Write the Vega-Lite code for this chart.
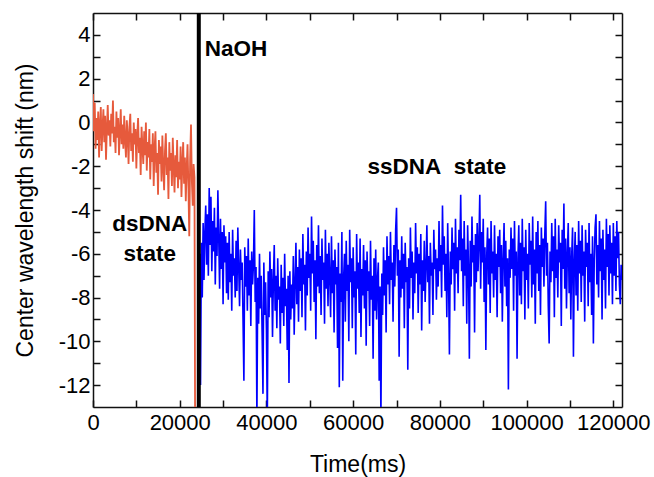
{
"$schema": "https://vega.github.io/schema/vega-lite/v6.json",
"width": 529, "height": 394,
"autosize": {"type": "none"},
"padding": {"left": 93, "top": 13, "right": 32, "bottom": 70},
"background": "white",
"config": {"view": {"stroke": null}, "font": "Liberation Sans",
 "axis": {"domainColor": "#111", "domainWidth": 1.5, "tickColor": "#111", "tickWidth": 1.5, "tickSize": -7, "labelFont": "Liberation Sans", "labelFontSize": 22, "labelColor": "#000", "titleFont": "Liberation Sans", "titleFontSize": 23, "titleFontWeight": "normal", "titleColor": "#000", "grid": false, "labelOverlap": false, "labelFlush": false}},
"datasets": {
"red": [
{"t":0,"y":1.3},{"t":200,"y":-0.4},{"t":400,"y":0.9},{"t":600,"y":-1.2},{"t":800,"y":0.2},{"t":1000,"y":-0.8},{"t":1200,"y":0.5},{"t":1400,"y":-1.6},{"t":1600,"y":-0.1},{"t":1800,"y":0.7},
{"t":2000,"y":-1.3},{"t":2200,"y":-0.2},{"t":2400,"y":0.6},{"t":2600,"y":-0.9},{"t":2800,"y":0.3},{"t":3000,"y":-1.7},{"t":3200,"y":-0.3},{"t":3400,"y":0.8},{"t":3600,"y":-0.6},{"t":3800,"y":0.1},
{"t":4000,"y":-1.1},{"t":4200,"y":0.4},{"t":4400,"y":-0.5},{"t":4600,"y":1.0},{"t":4800,"y":-0.9},{"t":5000,"y":-0.2},{"t":5200,"y":-1.4},{"t":5400,"y":0.5},{"t":5600,"y":-0.7},{"t":5800,"y":0.2},
{"t":6000,"y":-1.5},{"t":6200,"y":-0.4},{"t":6400,"y":0.6},{"t":6600,"y":-1.0},{"t":6800,"y":-0.1},{"t":7000,"y":-1.2},{"t":7200,"y":0.3},{"t":7400,"y":-0.8},{"t":7600,"y":-1.6},{"t":7800,"y":0.1},
{"t":8000,"y":-0.6},{"t":8200,"y":-1.9},{"t":8400,"y":-0.2},{"t":8600,"y":0.4},{"t":8800,"y":-1.3},{"t":9000,"y":-0.5},{"t":9200,"y":-1.8},{"t":9400,"y":0.0},{"t":9600,"y":-1.0},{"t":9800,"y":-0.3},
{"t":10000,"y":-2.1},{"t":10200,"y":-0.6},{"t":10400,"y":0.2},{"t":10600,"y":-1.4},{"t":10800,"y":-0.7},{"t":11000,"y":-2.4},{"t":11200,"y":-0.2},{"t":11400,"y":-1.1},{"t":11600,"y":-1.9},{"t":11800,"y":-0.4},
{"t":12000,"y":-1.5},{"t":12200,"y":0.0},{"t":12400,"y":-2.2},{"t":12600,"y":-0.9},{"t":12800,"y":-1.6},{"t":13000,"y":-0.3},{"t":13200,"y":-2.6},{"t":13400,"y":-1.0},{"t":13600,"y":-1.8},{"t":13800,"y":-0.5},
{"t":14000,"y":-2.9},{"t":14200,"y":-1.2},{"t":14400,"y":-0.4},{"t":14600,"y":-2.3},{"t":14800,"y":-1.4},{"t":15000,"y":-3.3},{"t":15200,"y":-0.8},{"t":15400,"y":-1.9},{"t":15600,"y":-1.1},{"t":15800,"y":-2.7},
{"t":16000,"y":-0.6},{"t":16200,"y":-2.0},{"t":16400,"y":-3.1},{"t":16600,"y":-1.3},{"t":16800,"y":-0.5},{"t":17000,"y":-2.4},{"t":17200,"y":-1.6},{"t":17400,"y":-3.5},{"t":17600,"y":-0.9},{"t":17800,"y":-2.2},
{"t":18000,"y":-1.4},{"t":18200,"y":-2.9},{"t":18400,"y":-0.7},{"t":18600,"y":-2.0},{"t":18800,"y":-3.2},{"t":19000,"y":-1.5},{"t":19200,"y":-2.5},{"t":19400,"y":-0.8},{"t":19600,"y":-3.0},{"t":19800,"y":-1.8},
{"t":20000,"y":-2.6},{"t":20200,"y":-1.1},{"t":20400,"y":-3.4},{"t":20600,"y":-1.9},{"t":20800,"y":-0.9},{"t":21000,"y":-2.8},{"t":21200,"y":-1.6},{"t":21400,"y":-3.6},{"t":21600,"y":-2.1},{"t":21800,"y":-1.0},
{"t":22000,"y":-2.9},{"t":22200,"y":-5.2},{"t":22400,"y":-1.7},{"t":22600,"y":-0.1},{"t":22800,"y":-2.7},{"t":23000,"y":-3.8},{"t":23200,"y":-1.9},{"t":23400,"y":-2.5},{"t":23550,"y":-14}
],
"blue": [
{"t":24450,"y":-13.6},{"t":24600,"y":-6.0},{"t":24800,"y":-12.0},{"t":25000,"y":-5.5},{"t":25200,"y":-8.0},
{"t":25400,"y":-4.6},{"t":25600,"y":-7.2},{"t":25800,"y":-5.0},{"t":26000,"y":-3.8},{"t":26200,"y":-6.5},{"t":26400,"y":-4.2},{"t":26600,"y":-7.0},{"t":26800,"y":-3.0},{"t":27000,"y":-5.6},{"t":27200,"y":-3.4},
{"t":27400,"y":-6.8},{"t":27600,"y":-4.5},{"t":27800,"y":-5.9},{"t":28000,"y":-3.9},{"t":28200,"y":-7.4},{"t":28400,"y":-4.8},{"t":28600,"y":-6.1},{"t":28800,"y":-3.1},{"t":29000,"y":-5.3},{"t":29200,"y":-7.6},
{"t":29400,"y":-4.4},{"t":29600,"y":-6.7},{"t":29800,"y":-5.0},{"t":30000,"y":-8.3},{"t":30200,"y":-4.7},{"t":30400,"y":-6.4},{"t":30600,"y":-5.2},{"t":30800,"y":-7.8},{"t":31000,"y":-5.5},
{"t":31200,"y":-8.1},{"t":31400,"y":-5.0},{"t":31600,"y":-7.3},{"t":31800,"y":-6.0},{"t":32000,"y":-8.6},{"t":32200,"y":-4.9},{"t":32400,"y":-7.0},{"t":32600,"y":-6.2},{"t":32800,"y":-8.0},{"t":33000,"y":-5.4},
{"t":33200,"y":-7.7},{"t":33400,"y":-4.8},{"t":33600,"y":-6.6},{"t":33800,"y":-8.4},{"t":34000,"y":-5.8},{"t":34200,"y":-7.2},{"t":34400,"y":-6.4},{"t":34600,"y":-9.0},{"t":34800,"y":-11.8},{"t":35000,"y":-5.7},
{"t":35200,"y":-7.5},{"t":35400,"y":-6.1},{"t":35600,"y":-8.6},{"t":35800,"y":-5.3},{"t":36000,"y":-7.9},{"t":36200,"y":-6.3},{"t":36400,"y":-9.3},{"t":36600,"y":-5.9},{"t":36800,"y":-7.4},{"t":37000,"y":-6.5},
{"t":37200,"y":-4.0},{"t":37400,"y":-8.2},{"t":37600,"y":-6.6},{"t":37800,"y":-13.6},{"t":38000,"y":-7.1},{"t":38200,"y":-9.2},{"t":38400,"y":-6.0},{"t":38600,"y":-8.5},{"t":38800,"y":-7.0},{"t":39000,"y":-9.6},
{"t":39200,"y":-12.4},{"t":39400,"y":-6.4},{"t":39600,"y":-8.8},{"t":39800,"y":-7.3},{"t":40000,"y":-9.5},{"t":40200,"y":-13.6},{"t":40400,"y":-6.8},{"t":40600,"y":-8.9},{"t":40800,"y":-5.9},{"t":41000,"y":-8.0},
{"t":41200,"y":-6.7},{"t":41400,"y":-9.8},{"t":41600,"y":-7.2},{"t":41800,"y":-5.6},{"t":42000,"y":-8.6},{"t":42200,"y":-7.0},{"t":42400,"y":-9.4},{"t":42600,"y":-6.2},{"t":42800,"y":-8.1},{"t":43000,"y":-7.5},
{"t":43200,"y":-10.1},{"t":43400,"y":-6.5},{"t":43600,"y":-8.7},{"t":43800,"y":-7.1},{"t":44000,"y":-9.3},{"t":44200,"y":-6.0},{"t":44400,"y":-8.4},{"t":44600,"y":-7.6},{"t":44800,"y":-10.4},{"t":45000,"y":-7.0},
{"t":45200,"y":-11.9},{"t":45400,"y":-6.8},{"t":45600,"y":-9.0},{"t":45800,"y":-7.4},{"t":46000,"y":-8.5},{"t":46200,"y":-6.1},{"t":46400,"y":-9.7},{"t":46600,"y":-7.3},
{"t":46800,"y":-5.5},{"t":47000,"y":-8.3},{"t":47200,"y":-6.6},{"t":47400,"y":-9.1},{"t":47600,"y":-5.8},{"t":47800,"y":-7.7},{"t":48000,"y":-6.2},{"t":48200,"y":-8.9},{"t":48400,"y":-5.1},{"t":48600,"y":-7.4},
{"t":48800,"y":-6.5},{"t":49000,"y":-9.5},{"t":49200,"y":-5.9},{"t":49400,"y":-7.9},{"t":49600,"y":-4.8},{"t":49800,"y":-7.1},{"t":50000,"y":-6.0},{"t":50200,"y":-8.6},{"t":50400,"y":-4.3},{"t":50600,"y":-6.9},
{"t":50800,"y":-5.4},{"t":51000,"y":-8.2},{"t":51200,"y":-6.3},{"t":51400,"y":-9.9},{"t":51600,"y":-5.6},{"t":51800,"y":-7.5},{"t":52000,"y":-4.7},{"t":52200,"y":-7.8},{"t":52400,"y":-6.1},{"t":52600,"y":-8.8},
{"t":52800,"y":-5.3},{"t":53000,"y":-7.2},{"t":53200,"y":-6.4},{"t":53400,"y":-9.2},{"t":53600,"y":-4.9},{"t":53800,"y":-7.6},{"t":54000,"y":-6.0},{"t":54200,"y":-8.4},{"t":54400,"y":-5.5},{"t":54600,"y":-7.0},
{"t":54800,"y":-8.9},{"t":55000,"y":-5.2},{"t":55200,"y":-7.8},{"t":55400,"y":-6.3},{"t":55600,"y":-9.6},{"t":55800,"y":-5.8},{"t":56000,"y":-7.4},{"t":56200,"y":-6.6},{"t":56400,"y":-10.3},{"t":56600,"y":-5.5},
{"t":56800,"y":-12.1},{"t":57000,"y":-6.9},{"t":57200,"y":-8.2},{"t":57400,"y":-5.0},{"t":57600,"y":-11.8},{"t":57800,"y":-7.1},{"t":58000,"y":-6.0},{"t":58200,"y":-9.1},{"t":58400,"y":-5.4},{"t":58600,"y":-7.7},
{"t":58800,"y":-6.5},{"t":59000,"y":-10.0},{"t":59200,"y":-4.9},{"t":59400,"y":-7.3},{"t":59600,"y":-6.2},{"t":59800,"y":-9.4},{"t":60000,"y":-5.7},{"t":60200,"y":-8.0},{"t":60400,"y":-6.8},{"t":60600,"y":-10.6},
{"t":60800,"y":-5.1},{"t":61000,"y":-7.6},{"t":61200,"y":-6.4},{"t":61400,"y":-8.7},{"t":61600,"y":-5.3},{"t":61800,"y":-9.8},{"t":62000,"y":-6.7},
{"t":62200,"y":-7.9},{"t":62400,"y":-5.6},{"t":62600,"y":-8.5},{"t":62800,"y":-6.3},{"t":63000,"y":-10.2},{"t":63200,"y":-5.9},{"t":63400,"y":-7.7},{"t":63600,"y":-6.8},{"t":63800,"y":-9.3},{"t":64000,"y":-5.4},
{"t":64200,"y":-8.1},{"t":64400,"y":-7.0},{"t":64600,"y":-10.8},{"t":64800,"y":-6.2},{"t":65000,"y":-8.6},{"t":65200,"y":-5.8},{"t":65400,"y":-9.0},{"t":65600,"y":-7.2},{"t":65800,"y":-6.4},{"t":66000,"y":-11.8},
{"t":66200,"y":-7.5},{"t":66400,"y":-13.6},{"t":66600,"y":-6.9},{"t":66800,"y":-8.8},{"t":67000,"y":-5.7},{"t":67200,"y":-7.9},{"t":67400,"y":-6.3},{"t":67600,"y":-9.6},{"t":67800,"y":-5.2},{"t":68000,"y":-7.4},
{"t":68200,"y":-6.1},{"t":68400,"y":-8.3},{"t":68600,"y":-5.0},{"t":68800,"y":-7.2},{"t":69000,"y":-6.4},{"t":69200,"y":-9.1},{"t":69400,"y":-5.6},{"t":69600,"y":-7.5},{"t":69800,"y":-4.9},{"t":70000,"y":-3.9},
{"t":70200,"y":-7.0},{"t":70400,"y":-5.8},{"t":70600,"y":-10.7},{"t":70800,"y":-6.3},{"t":71000,"y":-8.0},{"t":71200,"y":-5.2},{"t":71400,"y":-7.6},{"t":71600,"y":-6.0},{"t":71800,"y":-9.4},{"t":72000,"y":-5.5},
{"t":72200,"y":-7.3},{"t":72400,"y":-6.6},{"t":72600,"y":-11.3},{"t":72800,"y":-6.2},{"t":73000,"y":-8.5},{"t":73200,"y":-4.8},{"t":73400,"y":-7.1},{"t":73600,"y":-5.9},{"t":73800,"y":-9.0},{"t":74000,"y":-6.4},
{"t":74200,"y":-7.8},{"t":74400,"y":-4.6},{"t":74600,"y":-6.9},{"t":74800,"y":-5.7},{"t":75000,"y":-8.7},{"t":75200,"y":-6.0},{"t":75400,"y":-7.4},{"t":75600,"y":-5.1},{"t":75800,"y":-9.5},{"t":76000,"y":-6.3},
{"t":76200,"y":-7.7},{"t":76400,"y":-5.4},{"t":76600,"y":-8.2},{"t":76800,"y":-6.6},{"t":77000,"y":-4.7},{"t":77200,"y":-7.3},{"t":77400,"y":-6.1},{"t":77600,"y":-9.2},{"t":77800,"y":-5.5},{"t":78000,"y":-7.0},
{"t":78200,"y":-6.4},{"t":78400,"y":-8.8},{"t":78600,"y":-4.9},{"t":78800,"y":-6.7},{"t":79000,"y":-5.8},{"t":79200,"y":-8.1},{"t":79400,"y":-6.2},{"t":79600,"y":-7.5},{"t":79800,"y":-4.5},{"t":80000,"y":-6.8},
{"t":80200,"y":-5.6},{"t":80400,"y":-8.0},{"t":80600,"y":-3.8},{"t":80800,"y":-6.5},{"t":81000,"y":-5.2},{"t":81200,"y":-7.7},{"t":81400,"y":-6.0},{"t":81600,"y":-8.9},{"t":81800,"y":-4.6},{"t":82000,"y":-7.1},
{"t":82200,"y":-10.6},{"t":82400,"y":-5.9},{"t":82600,"y":-7.4},{"t":82800,"y":-4.8},{"t":83000,"y":-6.7},{"t":83200,"y":-5.5},{"t":83400,"y":-8.6},{"t":83600,"y":-4.4},{"t":83800,"y":-6.9},{"t":84000,"y":-5.7},
{"t":84200,"y":-7.8},{"t":84400,"y":-4.9},{"t":84600,"y":-6.3},{"t":84800,"y":-3.3},{"t":85000,"y":-6.8},{"t":85200,"y":-5.3},{"t":85400,"y":-8.4},{"t":85600,"y":-4.5},{"t":85800,"y":-7.0},{"t":86000,"y":-5.8},
{"t":86200,"y":-9.2},{"t":86400,"y":-4.7},{"t":86600,"y":-6.6},{"t":86800,"y":-10.8},{"t":87000,"y":-5.4},{"t":87200,"y":-7.5},{"t":87400,"y":-4.3},{"t":87600,"y":-6.4},{"t":87800,"y":-5.6},{"t":88000,"y":-9.6},
{"t":88200,"y":-5.1},{"t":88400,"y":-7.3},{"t":88600,"y":-4.6},{"t":88800,"y":-6.8},{"t":89000,"y":-5.5},{"t":89200,"y":-3.3},{"t":89400,"y":-7.6},{"t":89600,"y":-5.0},{"t":89800,"y":-6.4},{"t":90000,"y":-4.4},
{"t":90200,"y":-8.2},{"t":90400,"y":-5.7},{"t":90600,"y":-10.4},{"t":90800,"y":-6.1},{"t":91000,"y":-4.8},{"t":91200,"y":-7.4},{"t":91400,"y":-5.3},{"t":91600,"y":-8.7},{"t":91800,"y":-4.5},{"t":92000,"y":-6.9},
{"t":92200,"y":-5.9},{"t":92400,"y":-8.0},{"t":92600,"y":-4.7},{"t":92800,"y":-7.2},{"t":93000,"y":-6.0},{"t":93200,"y":-8.9},{"t":93400,"y":-5.2},{"t":93600,"y":-6.6},{"t":93800,"y":-4.9},{"t":94000,"y":-7.8},
{"t":94200,"y":-5.6},{"t":94400,"y":-9.1},{"t":94600,"y":-6.3},{"t":94800,"y":-4.6},{"t":95000,"y":-7.5},{"t":95200,"y":-5.4},{"t":95400,"y":-8.4},{"t":95600,"y":-6.2},{"t":95800,"y":-12.2},{"t":96000,"y":-5.8},
{"t":96200,"y":-7.1},{"t":96400,"y":-4.8},{"t":96600,"y":-6.7},{"t":96800,"y":-5.3},{"t":97000,"y":-8.6},{"t":97200,"y":-4.5},{"t":97400,"y":-7.0},{"t":97600,"y":-5.9},{"t":97800,"y":-10.8},{"t":98000,"y":-6.2},
{"t":98200,"y":-4.7},{"t":98400,"y":-7.9},{"t":98600,"y":-5.5},{"t":98800,"y":-8.3},{"t":99000,"y":-4.4},{"t":99200,"y":-6.8},{"t":99400,"y":-5.7},{"t":99600,"y":-9.0},{"t":99800,"y":-4.9},{"t":100000,"y":-7.2},
{"t":100200,"y":-6.0},{"t":100400,"y":-8.5},{"t":100600,"y":-4.6},{"t":100800,"y":-6.5},{"t":101000,"y":-5.4},{"t":101200,"y":-8.0},{"t":101400,"y":-4.3},{"t":101600,"y":-7.4},{"t":101800,"y":-5.8},{"t":102000,"y":-9.2},
{"t":102200,"y":-5.0},{"t":102400,"y":-6.9},{"t":102600,"y":-4.5},{"t":102800,"y":-7.7},{"t":103000,"y":-5.6},{"t":103200,"y":-8.8},{"t":103400,"y":-4.8},{"t":103600,"y":-6.6},{"t":103800,"y":-5.3},{"t":104000,"y":-7.5},
{"t":104200,"y":-5.1},{"t":104400,"y":-3.6},{"t":104600,"y":-7.0},{"t":104800,"y":-5.5},{"t":105000,"y":-8.4},{"t":105200,"y":-10.1},{"t":105400,"y":-5.9},{"t":105600,"y":-7.3},{"t":105800,"y":-4.6},{"t":106000,"y":-6.8},
{"t":106200,"y":-5.2},{"t":106400,"y":-8.9},{"t":106600,"y":-4.4},{"t":106800,"y":-7.1},{"t":107000,"y":-5.8},{"t":107200,"y":-8.0},{"t":107400,"y":-4.7},{"t":107600,"y":-6.4},{"t":107800,"y":-5.5},{"t":108000,"y":-9.3},
{"t":108200,"y":-4.9},{"t":108400,"y":-6.7},{"t":108600,"y":-3.7},{"t":108800,"y":-7.6},{"t":109000,"y":-5.3},{"t":109200,"y":-8.5},{"t":109400,"y":-6.0},{"t":109600,"y":-4.6},{"t":109800,"y":-7.8},{"t":110000,"y":-5.7},
{"t":110200,"y":-9.0},{"t":110400,"y":-6.1},{"t":110600,"y":-4.8},{"t":110800,"y":-10.7},{"t":111000,"y":-6.4},{"t":111200,"y":-5.0},{"t":111400,"y":-7.9},{"t":111600,"y":-5.6},{"t":111800,"y":-8.6},{"t":112000,"y":-4.5},
{"t":112200,"y":-6.9},{"t":112400,"y":-5.4},{"t":112600,"y":-8.2},{"t":112800,"y":-4.7},{"t":113000,"y":-7.0},{"t":113200,"y":-5.9},{"t":113400,"y":-9.1},{"t":113600,"y":-4.9},{"t":113800,"y":-6.6},{"t":114000,"y":-5.5},
{"t":114200,"y":-8.4},{"t":114400,"y":-4.6},{"t":114600,"y":-7.3},{"t":114800,"y":-6.0},{"t":115000,"y":-8.8},{"t":115200,"y":-5.2},{"t":115400,"y":-10.1},{"t":115600,"y":-6.3},{"t":115800,"y":-4.8},{"t":116000,"y":-4.2},
{"t":116200,"y":-7.4},{"t":116400,"y":-5.6},{"t":116600,"y":-8.0},{"t":116800,"y":-4.5},{"t":117000,"y":-6.8},{"t":117200,"y":-5.3},{"t":117400,"y":-9.0},{"t":117600,"y":-4.9},{"t":117800,"y":-7.2},{"t":118000,"y":-5.8},
{"t":118200,"y":-8.5},{"t":118400,"y":-4.4},{"t":118600,"y":-6.6},{"t":118800,"y":-5.1},{"t":119000,"y":-7.9},{"t":119200,"y":-4.7},{"t":119400,"y":-6.9},{"t":119600,"y":-5.5},{"t":119800,"y":-8.3},{"t":120000,"y":-4.6},
{"t":120200,"y":-7.0},{"t":120400,"y":-5.2},{"t":120600,"y":-7.7},{"t":120800,"y":-4.5},{"t":121000,"y":-6.2},{"t":121200,"y":-5.0},{"t":121400,"y":-7.4},{"t":121600,"y":-8.3},{"t":121800,"y":-6.5},{"t":122000,"y":-7.2}
],
"event": [{"t":24400}],
"labels": [
{"t":25780,"y":3.37,"label":"NaOH"},
{"t":79300,"y":-2.05,"label":"ssDNA\u00a0 state"},
{"t":13080,"y":-4.66,"label":"dsDNA"},
{"t":13080,"y":-6.0,"label":"state"}
]
},
"resolve": {"axis": {"x": "independent", "y": "independent"}},
"layer": [
{"data": {"name": "red"},
 "mark": {"type": "line", "color": "#E65A3C", "strokeWidth": 1.8, "clip": true},
 "encoding": {
  "x": {"field": "t", "type": "quantitative", "scale": {"domain": [0, 122000], "nice": false},
   "axis": {"orient": "bottom", "title": "Time(ms)", "values": [0,10000,20000,30000,40000,50000,60000,70000,80000,90000,100000,110000,120000], "format": "d", "labelExpr": "datum.value % 20000 === 0 ? datum.label : ''", "labelPadding": 12, "titlePadding": 20}},
  "y": {"field": "y", "type": "quantitative", "scale": {"domain": [-13, 5], "nice": false, "zero": false},
   "axis": {"orient": "left", "title": "Center wavelength shift (nm)", "values": [-12,-11,-10,-9,-8,-7,-6,-5,-4,-3,-2,-1,0,1,2,3,4], "labelExpr": "datum.value % 2 === 0 ? replace(datum.label, '\u2212', '-') : ''", "labelPadding": 10, "titlePadding": 21}}
 }},
{"data": {"name": "blue"},
 "mark": {"type": "line", "color": "#0000FF", "strokeWidth": 1.6, "clip": true},
 "encoding": {
  "x": {"field": "t", "type": "quantitative",
   "axis": {"orient": "top", "title": null, "labels": false, "values": [0,10000,20000,30000,40000,50000,60000,70000,80000,90000,100000,110000,120000]}},
  "y": {"field": "y", "type": "quantitative",
   "axis": {"orient": "right", "title": null, "labels": false, "values": [-12,-11,-10,-9,-8,-7,-6,-5,-4,-3,-2,-1,0,1,2,3,4]}}
 }},
{"data": {"name": "event"},
 "mark": {"type": "rule", "color": "#000", "strokeWidth": 4},
 "encoding": {"x": {"field": "t", "type": "quantitative", "axis": null}}},
{"data": {"name": "labels"},
 "transform": [{"filter": "datum.label === 'NaOH'"}],
 "mark": {"type": "text", "font": "Liberation Sans", "fontWeight": "bold", "fontSize": 22.5, "baseline": "middle", "align": "left", "color": "#000"},
 "encoding": {
  "x": {"field": "t", "type": "quantitative", "axis": null},
  "y": {"field": "y", "type": "quantitative", "axis": null},
  "text": {"field": "label"}
 }},
{"data": {"name": "labels"},
 "transform": [{"filter": "datum.label !== 'NaOH'"}],
 "mark": {"type": "text", "font": "Liberation Sans", "fontWeight": "bold", "fontSize": 22.5, "baseline": "middle", "align": "center", "color": "#000"},
 "encoding": {
  "x": {"field": "t", "type": "quantitative", "axis": null},
  "y": {"field": "y", "type": "quantitative", "axis": null},
  "text": {"field": "label"}
 }}
]
}
